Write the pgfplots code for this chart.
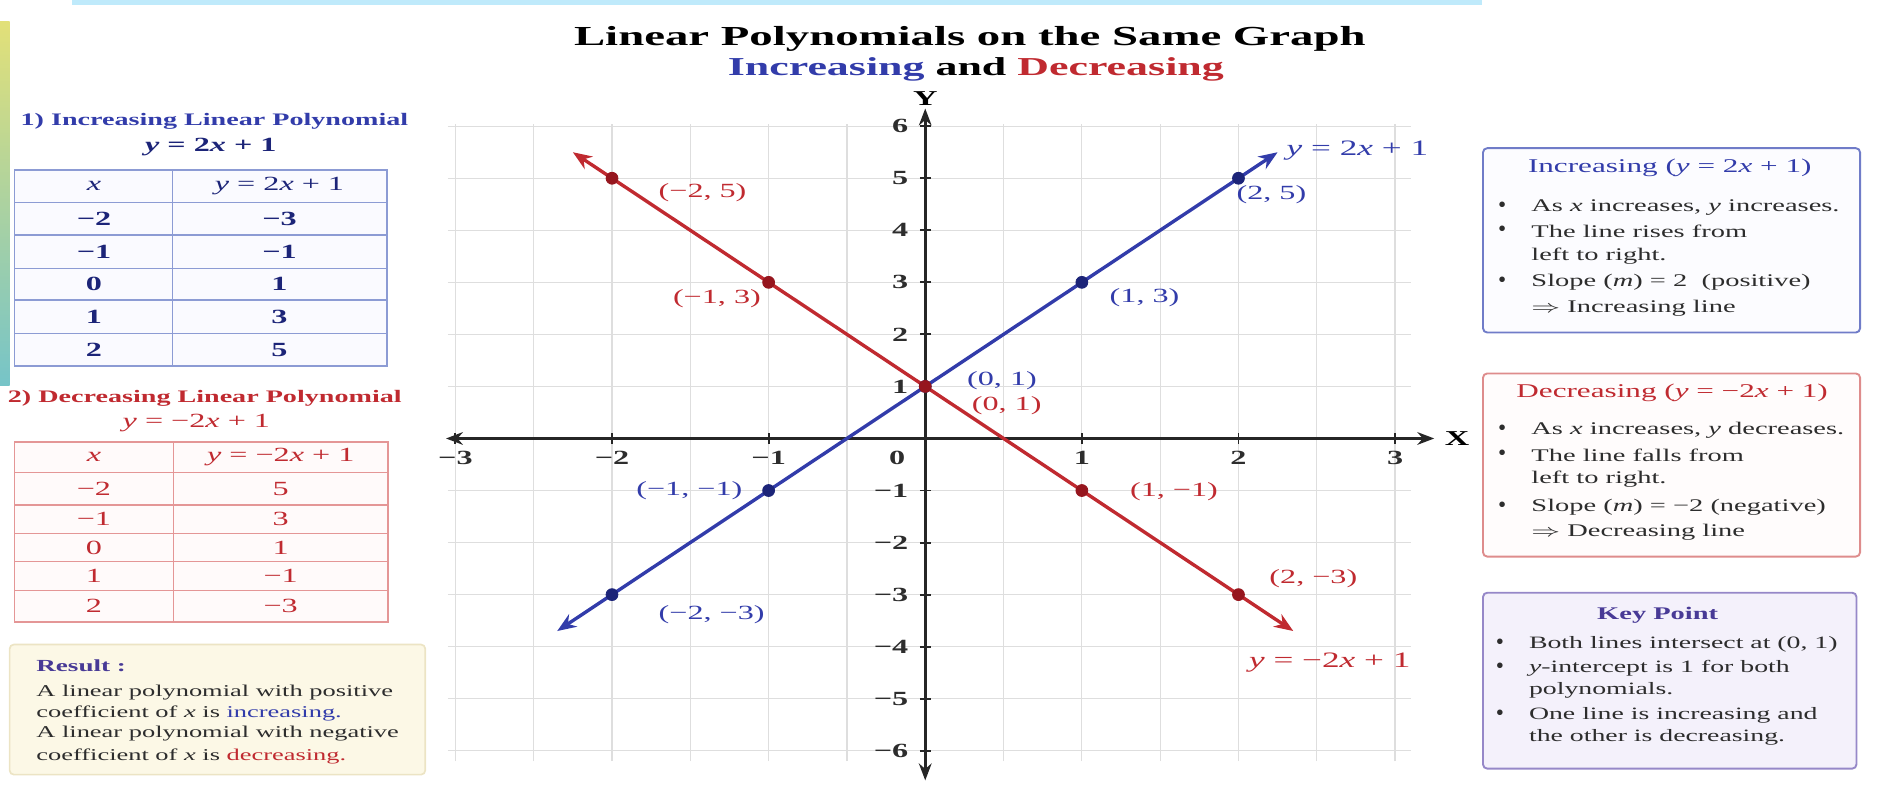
\documentclass[border=0pt]{standalone}
\usepackage{fontspec}
\setmainfont{Liberation Serif}
\usepackage{graphicx}
\usepackage{pgfplots}
\pgfplotsset{compat=1.18}
\usetikzlibrary{arrows.meta}

\definecolor{incblue}{RGB}{50,60,170}
\definecolor{incdark}{RGB}{28,36,120}
\definecolor{decred}{RGB}{192,42,48}
\definecolor{decdark}{RGB}{150,22,30}
\definecolor{gridc}{RGB}{222,222,222}
\definecolor{tblue}{RGB}{140,155,212}
\definecolor{tred}{RGB}{228,150,150}
\definecolor{ink}{RGB}{45,45,45}
\definecolor{cream}{RGB}{252,248,230}
\definecolor{creamline}{RGB}{236,228,196}
\definecolor{bxblue}{RGB}{112,124,200}
\definecolor{bxred}{RGB}{222,140,140}
\definecolor{kpfill}{RGB}{244,241,251}
\definecolor{kpline}{RGB}{150,136,200}
\definecolor{kptext}{RGB}{72,58,150}

\newcommand{\fs}[1]{\fontsize{#1}{#1}\selectfont}
\newcommand{\sx}[1]{\scalebox{1.6}[1]{#1}}
\newcommand{\vx}{\textit{x}}
\newcommand{\vy}{\textit{y}}

\begin{document}
\begin{tikzpicture}
\path (0,0) rectangle (313.6mm,-131mm);

\begin{axis}[
  at={(74.3mm,-126.36mm)}, anchor=south west,
  width=159.9mm, height=105.84mm, scale only axis,
  xmin=-3.05, xmax=3.1, ymin=-6.2, ymax=6.05,
  axis lines=middle, axis line style={draw=none},
  xtick={-3,-2,-1,0,1,2,3},
  xticklabels={\sx{−3},\sx{−2},\sx{−1},,\sx{1},\sx{2},\sx{3}},
  ytick={-6,-5,-4,-3,-2,-1,0,1,2,3,4,5,6},
  yticklabels={\sx{−6},\sx{−5},\sx{−4},\sx{−3},\sx{−2},\sx{−1},,\sx{1},\sx{2},\sx{3},\sx{4},\sx{5},\sx{6}},
  minor x tick num=1,
  grid=both,
  major grid style={gridc, line width=0.6pt},
  minor grid style={gridc, line width=0.6pt},
  tick align=center, major tick length=5pt, minor tick length=0pt,
  tick style={black!85, line width=0.9pt},
  tick label style={font=\fs{9.5}\bfseries, text=ink},
  yticklabel style={xshift=-2pt},
  clip=false,
]
% axes with arrows at both ends
\draw[black!85, line width=1.2pt, {Stealth[length=8pt,width=6pt]}-{Stealth[length=8pt,width=6pt]}]
  (axis cs:-3.06,0) -- (axis cs:3.25,0);
\draw[black!85, line width=1.2pt, {Stealth[length=8pt,width=6pt]}-{Stealth[length=8pt,width=6pt]}]
  (axis cs:0,-6.57) -- (axis cs:0,6.34);
\node[anchor=west, font=\fs{10}\bfseries] at (axis cs:3.27,0) {\sx{X}};
\node[anchor=south, font=\fs{10}\bfseries, inner sep=1pt] at (axis cs:0,6.34) {\sx{Y}};
\node[font=\fs{9.5}\bfseries, text=ink] at (axis cs:-0.18,-0.37) {\sx{0}};

% y = 2x + 1
\addplot[incblue, line width=1.6pt, {Stealth[length=9pt,width=7pt]}-{Stealth[length=9pt,width=7pt]}]
  coordinates {(-2.35,-3.7) (-2,-3) (-1,-1) (0,1) (1,3) (2,5) (2.25,5.5)};
% y = -2x + 1
\addplot[decred, line width=1.6pt, {Stealth[length=9pt,width=7pt]}-{Stealth[length=9pt,width=7pt]}]
  coordinates {(-2.25,5.5) (-2,5) (-1,3) (0,1) (1,-1) (2,-3) (2.35,-3.7)};
\addplot[only marks, mark=*, mark size=2.8pt, color=incdark]
  coordinates {(-2,-3) (-1,-1) (0,1) (1,3) (2,5)};
\addplot[only marks, mark=*, mark size=2.8pt, color=decdark]
  coordinates {(-2,5) (-1,3) (0,1) (1,-1) (2,-3)};

% point labels
\node[anchor=west, font=\fs{9.5}, text=incblue] at (axis cs:1.94,4.68) {\sx{(2, 5)}};
\node[anchor=west, font=\fs{9.5}, text=incblue] at (axis cs:1.13,2.71) {\sx{(1, 3)}};
\node[anchor=west, font=\fs{9.5}, text=incblue] at (axis cs:0.22,1.11) {\sx{(0, 1)}};
\node[anchor=east, font=\fs{9.5}, text=incblue] at (axis cs:-1.12,-1.0) {\sx{(−1, −1)}};
\node[anchor=west, font=\fs{9.5}, text=incblue] at (axis cs:-1.75,-3.38) {\sx{(−2, −3)}};
\node[anchor=west, font=\fs{10.4}, text=incblue] at (axis cs:2.26,5.53) {\sx{\vy{} = 2\vx{} + 1}};
\node[anchor=west, font=\fs{9.5}, text=decred] at (axis cs:-1.75,4.72) {\sx{(−2, 5)}};
\node[font=\fs{9.5}, text=decred] at (axis cs:-1.33,2.69) {\sx{(−1, 3)}};
\node[anchor=west, font=\fs{9.5}, text=decred] at (axis cs:0.25,0.63) {\sx{(0, 1)}};
\node[anchor=west, font=\fs{9.5}, text=decred] at (axis cs:1.26,-1.02) {\sx{(1, −1)}};
\node[anchor=west, font=\fs{9.5}, text=decred] at (axis cs:2.15,-2.69) {\sx{(2, −3)}};
\node[anchor=west, font=\fs{10.4}, text=decred] at (axis cs:2.02,-4.31) {\sx{\vy{} = −2\vx{} + 1}};
\end{axis}

\begin{scope}[x=0.2mm, y=-0.2mm]
% decorative edges
\fill[cyan!25] (60,0) rectangle (1230,4);
\shade[top color={rgb,255:red,226;green,224;blue,120}, bottom color={rgb,255:red,118;green,196;blue,200}]
  (0,18) rectangle (8,320);

% title
\node[font=\fs{13}\bfseries] at (805,32) {\scalebox{1.7}[1]{Linear Polynomials on the Same Graph}};
\node[font=\fs{12.2}\bfseries] at (810,58)
  {\scalebox{1.7}[1]{\textcolor{incblue}{Increasing} and \textcolor{decred}{Decreasing}}};

% left: increasing table
\node[font=\fs{8.3}\bfseries, text=incblue] at (178,101) {\sx{1) Increasing Linear Polynomial}};
\node[font=\fs{9.5}\bfseries, text=incdark] at (175,122) {\sx{\vy{} = 2\vx{} + 1}};
\fill[blue!2] (12,141) rectangle (321,304);
\foreach \r in {168,195,223,249,277} \draw[tblue, line width=0.7pt] (12,\r) -- (321,\r);
\draw[tblue, line width=0.7pt] (143,141) -- (143,304);
\draw[tblue, line width=0.9pt] (12,141) rectangle (321,304);
\node[font=\fs{9.5}, text=incdark] at (78,154.5) {\sx{\vx}};
\node[font=\fs{9.5}, text=incdark] at (232,154.5) {\sx{\vy{} = 2\vx{} + 1}};
\foreach \yy/\a/\b in {181.5/−2/−3, 209/−1/−1, 236/0/1, 263/1/3, 290.5/2/5} {
  \node[font=\fs{9.5}\bfseries, text=incdark] at (78,\yy) {\sx{\a}};
  \node[font=\fs{9.5}\bfseries, text=incdark] at (232,\yy) {\sx{\b}};
}

% left: decreasing table
\node[font=\fs{8.3}\bfseries, text=decred] at (170,331) {\sx{2) Decreasing Linear Polynomial}};
\node[font=\fs{9.5}, text=decred] at (163,351) {\sx{\vy{} = −2\vx{} + 1}};
\fill[red!2] (12,367) rectangle (322,516);
\foreach \r in {392,419,443,466,490} \draw[tred, line width=0.7pt] (12,\r) -- (322,\r);
\draw[tred, line width=0.7pt] (144,367) -- (144,516);
\draw[tred, line width=0.9pt] (12,367) rectangle (322,516);
\node[font=\fs{9.5}, text=decred] at (78,379.5) {\sx{\vx}};
\node[font=\fs{9.5}, text=decred] at (233,379.5) {\sx{\vy{} = −2\vx{} + 1}};
\foreach \yy/\a/\b in {405.5/−2/5, 431/−1/3, 454.5/0/1, 478/1/−1, 503/2/−3} {
  \node[font=\fs{9.5}, text=decred] at (78,\yy) {\sx{\a}};
  \node[font=\fs{9.5}, text=decred] at (233,\yy) {\sx{\b}};
}

% result box
\draw[creamline, fill=cream, line width=0.8pt, rounded corners=2pt] (8,535) rectangle (353,643);
\node[anchor=west, font=\fs{8}\bfseries, text=kptext] at (24,553) {\sx{Result :}};
\node[anchor=west, font=\fs{7.8}, text=ink] at (24,575) {\sx{A linear polynomial with positive}};
\node[anchor=west, font=\fs{7.8}, text=ink] at (24,592)
  {\sx{coefficient of \vx{} is \textcolor{incblue}{increasing.}}};
\node[anchor=west, font=\fs{7.8}, text=ink] at (24,609) {\sx{A linear polynomial with negative}};
\node[anchor=west, font=\fs{7.8}, text=ink] at (24,628)
  {\sx{coefficient of \vx{} is \textcolor{decred}{decreasing.}}};

% right: increasing box
\draw[bxblue, line width=0.9pt, fill=blue!1, rounded corners=2pt] (1231,123) rectangle (1544,276);
\node[font=\fs{9.2}, text=incblue] at (1386,139) {\sx{Increasing (\vy{} = 2\vx{} + 1)}};
\foreach \yy in {172,192,234} \node[font=\fs{11}, text=ink, inner sep=0pt] at (1247,\yy) {\textbullet};
\node[anchor=west, font=\fs{8.4}, text=ink] at (1265,172) {\sx{As \vx{} increases, \vy{} increases.}};
\node[anchor=west, font=\fs{8.4}, text=ink] at (1265,192) {\sx{The line rises from}};
\node[anchor=west, font=\fs{8.4}, text=ink] at (1265,213) {\sx{left to right.}};
\node[anchor=west, font=\fs{8.4}, text=ink] at (1265,234) {\sx{Slope (\textit{m}) = 2\enspace(positive)}};
\node[anchor=west, font=\fs{8.4}, text=ink] at (1265,256) {\sx{$\Rightarrow$ Increasing line}};

% right: decreasing box
\draw[bxred, line width=0.9pt, fill=red!1, rounded corners=2pt] (1231,310) rectangle (1544,462);
\node[font=\fs{9.2}, text=decred] at (1388,326) {\sx{Decreasing (\vy{} = −2\vx{} + 1)}};
\foreach \yy in {357,378,421} \node[font=\fs{11}, text=ink, inner sep=0pt] at (1247,\yy) {\textbullet};
\node[anchor=west, font=\fs{8.4}, text=ink] at (1265,357) {\sx{As \vx{} increases, \vy{} decreases.}};
\node[anchor=west, font=\fs{8.4}, text=ink] at (1265,378) {\sx{The line falls from}};
\node[anchor=west, font=\fs{8.4}, text=ink] at (1265,398) {\sx{left to right.}};
\node[anchor=west, font=\fs{8.4}, text=ink] at (1265,421) {\sx{Slope (\textit{m}) = −2 (negative)}};
\node[anchor=west, font=\fs{8.4}, text=ink] at (1265,442) {\sx{$\Rightarrow$ Decreasing line}};

% right: key point box
\draw[kpline, line width=0.9pt, fill=kpfill, rounded corners=2pt] (1231,492) rectangle (1541,638);
\node[font=\fs{8.4}\bfseries, text=kptext] at (1376,511) {\sx{Key Point}};
\foreach \yy in {535,555,594} \node[font=\fs{11}, text=ink, inner sep=0pt] at (1245,\yy) {\textbullet};
\node[anchor=west, font=\fs{8.2}, text=ink] at (1263,535) {\sx{Both lines intersect at (0, 1)}};
\node[anchor=west, font=\fs{8.2}, text=ink] at (1263,555) {\sx{\vy{}-intercept is 1 for both}};
\node[anchor=west, font=\fs{8.2}, text=ink] at (1263,573) {\sx{polynomials.}};
\node[anchor=west, font=\fs{8.2}, text=ink] at (1263,594) {\sx{One line is increasing and}};
\node[anchor=west, font=\fs{8.2}, text=ink] at (1263,612) {\sx{the other is decreasing.}};
\end{scope}
\end{tikzpicture}
\end{document}
